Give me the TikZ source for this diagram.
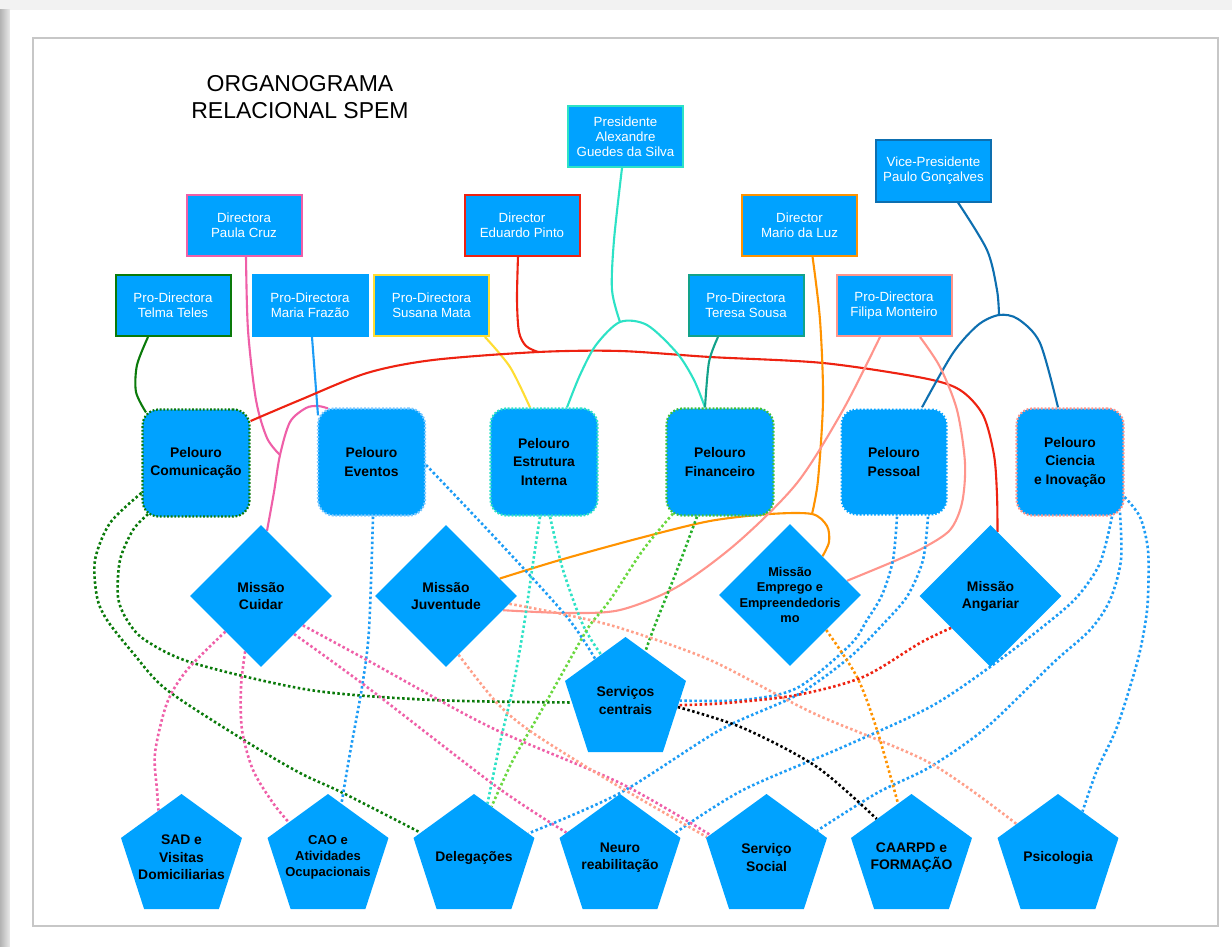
\documentclass[tikz,border=0pt]{standalone}
\usepackage{fontspec}
\setmainfont{Liberation Sans}
\usetikzlibrary{shapes.geometric,calc}
\pgfdeclarelayer{back}
\pgfdeclarelayer{bg}
\pgfsetlayers{back,bg,main}
\definecolor{nodeblue}{HTML}{00A2FF}
\definecolor{cPink}{HTML}{EF5FA8}
\definecolor{cRed}{HTML}{EE2211}
\definecolor{cOrange}{HTML}{FF9300}
\definecolor{cTurq}{HTML}{2DE2C6}
\definecolor{cDkBlue}{HTML}{0D6FB0}
\definecolor{cDkGreen}{HTML}{0A7A0A}
\definecolor{cYellow}{HTML}{FFDD33}
\definecolor{cTeal}{HTML}{12A28A}
\definecolor{cSalmon}{HTML}{FF958C}
\definecolor{cSalmonDot}{HTML}{FFA08A}
\definecolor{cLtGreen}{HTML}{6AD83F}
\definecolor{cGreen}{HTML}{27B02A}
\definecolor{cFinBorder}{HTML}{3CC23C}
\definecolor{cEvBorder}{HTML}{7CC8FF}
\definecolor{cLineBlue}{HTML}{1C9CF6}
\begin{document}
\begin{tikzpicture}[x=1pt,y=-1pt,
  topbox/.style={rectangle, fill=nodeblue, line width=2pt, minimum width=115pt, minimum height=61pt, inner sep=0pt, text=white, align=center, font=\fontsize{13.3}{15}\selectfont},
  pel/.style={rectangle, rounded corners=16pt, fill=nodeblue, line width=2.2pt, dash pattern=on 1.8pt off 1.8pt, minimum width=107pt, minimum height=107pt, inner sep=0pt, align=center, font=\bfseries\fontsize{13.9}{18.5}\selectfont},
  mis/.style={diamond, aspect=1, fill=nodeblue, minimum width=142pt, minimum height=142pt, inner sep=-40pt, align=center, font=\bfseries\fontsize{13.9}{17}\selectfont},
  pent/.style={regular polygon, regular polygon sides=5, fill=nodeblue, minimum size=127.2pt, inner sep=-20pt, align=center, font=\bfseries\fontsize{13.9}{17.5}\selectfont},
  conn/.style={line width=2.1pt},
  dot/.style={line width=2.6pt, dash pattern=on 2.5pt off 2.5pt}]
\useasboundingbox (0,0) rectangle (1232,947);
\begin{pgfonlayer}{back}
\fill[black!5] (0,0) rectangle (1232,947);
\shade[left color=black!30, right color=black!8] (0,10) rectangle (10,947);
\fill[white] (10,10) rectangle (1232,947);
\draw[black!22, line width=1.5pt] (33,38) rectangle (1218,926);
\end{pgfonlayer}

\node[font=\fontsize{23}{27.5}\selectfont, align=center] (title) at (300,97) {ORGANOGRAMA\\RELACIONAL SPEM};

% top boxes
\node[topbox, draw=cTurq] (pres) at (625.5,136.5) {Presidente\\Alexandre\\Guedes da Silva};
\node[topbox, draw=cPink] (paula) at (244,225) {Directora\\Paula Cruz};
\node[topbox, draw=cRed] (edu) at (522,225) {Director\\Eduardo Pinto};
\node[topbox, draw=cOrange] (mario) at (799.5,225) {Director\\Mario da Luz};
\node[topbox, draw=cDkBlue] (vice) at (933.5,171) {Vice-Presidente\\Paulo Gonçalves};
\node[topbox, draw=cDkGreen] (telma) at (173,305.5) {Pro-Directora\\Telma Teles};
\node[topbox, draw=nodeblue] (maria) at (310,305.5) {Pro-Directora\\Maria Frazão};
\node[topbox, draw=cYellow] (susana) at (431.5,305.5) {Pro-Directora\\Susana Mata};
\node[topbox, draw=cTeal] (teresa) at (746,305.5) {Pro-Directora\\Teresa Sousa};
\node[topbox, draw=cSalmon] (filipa) at (894,305.5) {Pro-Directora\\Filipa Monteiro};

% pelouros
\node[pel, draw=cDkGreen] (com) at (196,463) {Pelouro\\Comunicação};
\node[pel, draw=cEvBorder] (eve) at (371.5,462) {Pelouro\\Eventos};
\node[pel, draw=cTurq] (est) at (544,462) {Pelouro\\Estrutura\\Interna};
\node[pel, draw=cFinBorder] (fin) at (720,462) {Pelouro\\Financeiro};
\node[pel, draw=white] (pes) at (894,462) {Pelouro\\Pessoal};
\node[pel, draw=cSalmon] (cie) at (1070,462) {Pelouro\\Ciencia\\e Inovação};

% missoes
\node[mis] (cui) at (261,596) {Missão\\Cuidar};
\node[mis] (juv) at (446,596) {Missão\\Juventude};
\node[mis, font=\bfseries\fontsize{12.8}{15.6}\selectfont] (emp) at (790,595) {Missão\\Emprego e\\Empreendedoris\\mo};
\node[mis] (ang) at (990.5,596) {Missão\\Angariar};

% pentagons
\node[pent] (sc) at (625.5,700.6) {Serviços\\centrais};
\node[pent] (sad) at (181.5,857.6) {SAD e\\Visitas\\Domiciliarias};
\node[pent, font=\bfseries\fontsize{13}{16}\selectfont] (cao) at (328,857.6) {CAO e\\Atividades\\Ocupacionais};
\node[pent] (del) at (474,857.6) {Delegações};
\node[pent] (neu) at (620,857.6) {Neuro\\reabilitação};
\node[pent] (soc) at (766.5,857.6) {Serviço\\Social};
\node[pent] (caa) at (911.5,857.6) {CAARPD e\\FORMAÇÃO};
\node[pent] (psi) at (1058,857.6) {Psicologia};

\coordinate (pj) at (280,455);
\coordinate (ej) at (538,352);
\coordinate (prj) at (620,322);
\coordinate (vj) at (999,315);
\coordinate (mj) at (812,514);

\begin{pgfonlayer}{bg}
% solid connectors
\draw[conn,cDkGreen] plot[smooth] coordinates {([xshift=-25pt]telma.south) (137,365) (136,392) ([xshift=-50pt,yshift=-4pt]com.north)};
\draw[conn,cPink] plot[smooth] coordinates {([xshift=2pt]paula.south) (248,330) (256,400) (267,438) (pj)};
\draw[conn,cPink] plot[smooth] coordinates {([xshift=6pt,yshift=-6pt]cui.north) (274,492) (pj) (290,422) (306,408) (318,406) ([xshift=-43.5pt,yshift=-1pt]eve.north)};
\draw[conn,cLineBlue] ([xshift=2pt]maria.south) -- ([xshift=-53.5pt,yshift=-8pt]eve.north);
\draw[conn,cYellow] plot[smooth] coordinates {([xshift=53.5pt]susana.south) (510,367) ([xshift=-14pt]est.north)};
\draw[conn,cRed] plot[smooth] coordinates {([yshift=42pt]com.east) (300,400) (367,373) (433,360) (ej) (620,351) (710,357) (823,363) (923,378) (960,390) (983,415) (994,455) (997,495) ([xshift=7pt,yshift=-7pt]ang.north)};
\draw[conn,cRed] plot[smooth] coordinates {([xshift=-4pt]edu.south) (517,300) (519,332) (526,346) (ej)};
\draw[conn,cTurq] plot[smooth] coordinates {([xshift=-3.5pt]pres.south) (614,240) (612,290) (prj)};
\draw[conn,cTurq] plot[smooth] coordinates {([xshift=23pt]est.north) (580,375) (596,345) (prj) (647,325) (677,353) (694,380) ([xshift=-15pt]fin.north)};
\draw[conn,cTeal] plot[smooth] coordinates {([xshift=-28pt]teresa.south) (709,362) ([xshift=-15pt]fin.north)};
\draw[conn,cOrange] plot[smooth] coordinates {([xshift=13pt]mario.south) (820,320) (823,400) (818,480) (mj)};
\draw[conn,cOrange] plot[smooth] coordinates {(juv.18) (560,560) (640,538) (710,521) (770,514) (mj) (827,526) (829,542) (emp.50)};
\draw[conn,cDkBlue] plot[smooth] coordinates {([xshift=24.5pt]vice.south) (987,250) (997,290) (vj)};
\draw[conn,cDkBlue] plot[smooth] coordinates {([xshift=28pt]pes.north) (953,353) (978,325) (vj) (1018,319) (1040,343) ([xshift=-12pt]cie.north)};
\draw[conn,cSalmon] plot[smooth] coordinates {([xshift=-14pt]filipa.south) (843,410) (797,483) (737,543) (677,587) (620,610) (567,613) (juv.-14)};
\draw[conn,cSalmon] plot[smooth] coordinates {([xshift=26pt]filipa.south) (940,367) (957,410) (965,463) (962,503) (950,530) (923,548) (890,563) (emp.14)};

% dotted connectors
\draw[dot,cDkGreen] plot[smooth] coordinates {([yshift=-30pt]com.west) (110,523) (95,560) (97,597) (107,620) (133,653) (167,690) (247,742) (300,773) (343,793) (del.155)};
\draw[dot,cDkGreen] plot[smooth] coordinates {([xshift=-48pt,yshift=3.5pt]com.south) (133,530) (120,560) (118,597) (127,620) (145,640) (193,663) (310,690) (433,700) (sc.182)};
\draw[dot,cLineBlue] plot[smooth] coordinates {([yshift=-3pt]eve.east) (500,543) (567,617) (sc.126)};
\draw[dot,cLineBlue] plot[smooth] coordinates {([xshift=1.5pt]eve.south) (369,630) (362,687) (350,753) (cao.76)};
\draw[dot,cTurq] plot[smooth] coordinates {([xshift=-4pt]est.south) (533,563) (524,625) (513,687) (500,743) (del.76)};
\draw[dot,cTurq] plot[smooth] coordinates {([xshift=6pt]est.south) (563,570) (583,625) (sc.118)};
\draw[dot,cLtGreen] plot[smooth] coordinates {([xshift=-47pt,yshift=3pt]fin.south) (643,550) (610,600) (590,625) (577,647) (540,713) (513,760) (del.71)};
\draw[dot,cGreen] plot[smooth] coordinates {([xshift=-23pt]fin.south) (677,570) (655,625) (sc.68)};
\draw[dot,cLineBlue] plot[smooth] coordinates {([xshift=3pt]pes.south) (893,560) (882,595) (867,620) (850,645) (797,688) (743,700) (sc.0)};
\draw[dot,cLineBlue] plot[smooth] coordinates {([xshift=34pt]pes.south) (923,560) (908,595) (887,620) (850,657) (797,695) (720,730) (620,793) (del.24)};
\draw[dot,cLineBlue] plot[smooth] coordinates {([xshift=42pt]cie.south) (1100,563) (1077,597) (1045,625) (990,667) (930,707) (843,747) (743,790) (neu.24)};
\draw[dot,cLineBlue] plot[smooth] coordinates {([xshift=50pt,yshift=4pt]cie.south) (1121,560) (1110,600) (1090,630) (1053,663) (987,727) (930,767) (877,793) (soc.28)};
\draw[dot,cLineBlue] plot[smooth] coordinates {([yshift=-35pt]cie.east) (1140,517) (1148,550) (1148,597) (1145,625) (1137,663) (1117,727) (1097,770) (psi.62)};
\draw[dot,cPink] plot[smooth] coordinates {(cui.225) (187,670) (167,703) (155,753) (157,790) (sad.116)};
\draw[dot,cPink] plot[smooth] coordinates {(cui.254) (241,687) (242,730) (253,770) (273,803) (cao.138)};
\draw[dot,cPink] plot[smooth] coordinates {(cui.-49) (367,687) (497,787) (neu.155)};
\draw[dot,cPink] plot[smooth] coordinates {(cui.-35) (367,660) (490,727) (620,783) (soc.158)};
\draw[dot,cSalmonDot] plot[smooth] coordinates {(juv.-78) (497,703) (533,733) (613,783) (soc.161)};
\draw[dot,cSalmonDot] plot[smooth] coordinates {(juv.-7) (567,615) (620,628) (710,660) (813,713) (930,763) (psi.141)};
\draw[dot,cOrange] plot[smooth] coordinates {(emp.-44) (857,677) (877,730) (caa.104)};
\draw[dot,cRed] plot[smooth] coordinates {(ang.219) (920,643) (863,677) (797,695) (727,703) (sc.-5)};
\draw[dot,black] plot[smooth] coordinates {(sc.-7) (743,728) (817,767) (caa.132)};
\end{pgfonlayer}
\end{tikzpicture}
\end{document}
